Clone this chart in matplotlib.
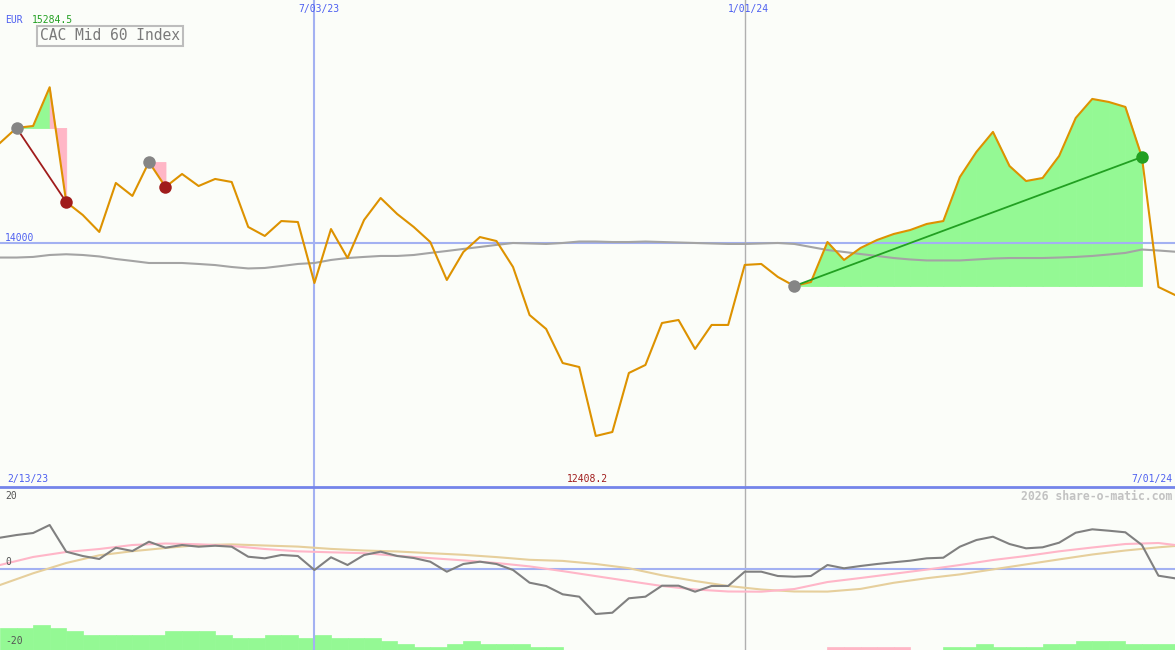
import matplotlib

matplotlib.use("Agg")
import matplotlib.pyplot as plt
import matplotlib.transforms as mtransforms
import numpy as np

# weekly closes, 2/13/23 .. 7/01/24 (index = week)
close = [14825, 14949, 14965, 15284.5, 14338, 14231, 14091, 14495, 14388, 14668,
         14462, 14569, 14470, 14528, 14503, 14132, 14058, 14181, 14173, 13670,
         14115, 13876, 14190, 14371, 14239, 14132, 14008, 13695, 13926, 14049,
         14016, 13802, 13406, 13291, 13010, 12977, 12408.2, 12441, 12928, 12994,
         13340, 13365, 13126, 13324, 13324, 13819, 13827, 13720, 13645, 13678,
         14008, 13860, 13959, 14025, 14074, 14107, 14157, 14181, 14544, 14751,
         14916, 14635, 14511, 14536, 14718, 15031, 15188, 15163, 15122, 14709,
         13637, 13571]

moving_avg = [13880, 13880, 13885, 13901, 13907, 13901, 13889, 13868, 13852, 13835,
              13835, 13835, 13827, 13818, 13802, 13790, 13794, 13810, 13827, 13835,
              13860, 13876, 13885, 13893, 13893, 13901, 13918, 13934, 13951, 13967,
              13984, 14000, 13996, 13992, 14000, 14012, 14012, 14008, 14008, 14012,
              14008, 14004, 14000, 13996, 13992, 13992, 13996, 14000, 13992, 13967,
              13942, 13926, 13909, 13893, 13876, 13864, 13856, 13856, 13856, 13864,
              13872, 13876, 13876, 13876, 13880, 13885, 13893, 13905, 13918, 13946,
              13938, 13928]

# oscillator panel
osc = [9.07, 9.86, 10.45, 12.81, 4.95, 3.68, 2.80, 6.12, 5.15, 7.89,
       6.12, 6.92, 6.42, 6.71, 6.42, 3.47, 3.00, 3.98, 3.68, -0.44,
       3.30, 1.03, 3.98, 4.95, 3.68, 3.09, 2.00, -0.94, 1.33, 2.00,
       1.33, -0.44, -4.18, -5.15, -7.60, -8.30, -13.40, -13.02, -8.77, -8.30,
       -5.06, -5.06, -6.83, -5.15, -5.15, -0.94, -0.94, -2.21, -2.42, -2.21,
       1.03, 0.06, 0.74, 1.33, 1.83, 2.30, 3.00, 3.18, 6.42, 8.39,
       9.36, 7.21, 5.94, 6.24, 7.60, 10.54, 11.54, 11.13, 10.66, 6.92,
       -2.12, -2.89]

slow_idx = list(range(0, 71, 2)) + [71]
osc_pink = [1.03, 3.39, 4.86, 5.74, 6.92, 7.36, 7.13, 6.63, 5.74, 5.06,
            4.77, 4.51, 3.74, 3.06, 2.39, 1.62, 0.62, -0.77, -2.24, -3.71,
            -5.15, -6.18, -6.77, -6.83, -6.04, -3.98, -2.80, -1.56, -0.32, 1.03,
            2.50, 3.68, 5.06, 6.18, 7.21, 7.51, 6.92]
osc_tan = [-4.86, -1.41, 1.62, 3.89, 5.09, 6.04, 6.89, 7.10, 6.77, 6.45,
           5.77, 5.30, 5.01, 4.51, 4.03, 3.36, 2.56, 2.24, 1.33, 0.09,
           -2.00, -3.68, -5.15, -6.18, -6.77, -6.80, -6.01, -4.21, -2.86, -1.74,
           -0.27, 1.21, 2.68, 4.12, 5.30, 6.24, 6.63]

hist = [6.57, 6.57, 7.36, 6.57, 5.59, 4.42, 4.42, 4.42, 4.42, 4.42,
        5.59, 5.59, 5.59, 4.42, 3.62, 3.62, 4.42, 4.42, 3.62, 4.42,
        3.62, 3.62, 3.62, 2.65, 1.77, 0.97, 0.97, 1.77, 2.65, 1.77,
        1.77, 1.77, 0.97, 0.97, 0, 0, 0, 0, 0, 0,
        0, 0, 0, 0, 0, 0, 0, 0, 0, 0,
        -0.97, -0.97, -0.97, -0.97, -0.97, 0, 0, 0.97, 0.97, 1.77,
        0.97, 0.97, 0.97, 1.77, 1.77, 2.65, 2.65, 2.65, 1.77, 1.77,
        1.77, 0]

# (entry week, exit week)
trades = [(1, 4), (9, 10), (48, 69)]
date_ticks = [(19, "7/03/23"), (45, "1/01/24")]
first_date, last_date = "2/13/23", "7/01/24"
ref_level = 14000

W, H = 1175, 650
BG = "#fbfdf9"
GOLD = "#dd9200"
TXT_BLUE = "#4d5ff0"
LINE_BLUE = "#a3b1f2"
GREEN_FILL = "#94f994"
PINK = "#ffb6c6"
MONO = "DejaVu Sans Mono"

fig = plt.figure(figsize=(W / 100, H / 100), dpi=100, facecolor=BG)
ax = fig.add_axes([0, 163 / H, 1, 487 / H])
axb = fig.add_axes([0, 0, 1, 163 / H])
for a in (ax, axb):
    a.set_facecolor(BG)
    a.set_axis_off()
    a.set_xlim(0, len(close) - 1)
ax.set_ylim(11987.5, 16004)
axb.set_ylim(-24, 24)

x = np.arange(len(close))
p = np.array(close)

# trade fills, per segment: green if segment ends above entry, pink if below
for i0, i1 in trades:
    entry = p[i0]
    for j in range(i0, i1):
        c = GREEN_FILL if p[j + 1] >= entry else PINK
        ax.fill_between(x[j:j + 2], p[j:j + 2], entry, facecolor=c, edgecolor=c,
                        lw=0.6, zorder=1)

ax.axhline(ref_level, color=LINE_BLUE, lw=1.5, zorder=2)
for a in (ax, axb):
    a.axvline(date_ticks[0][0], color=LINE_BLUE, lw=1.5, zorder=2)
    a.axvline(date_ticks[1][0], color="#b0b0b0", lw=1, zorder=2)

ax.plot(x, moving_avg, color="#a4a4a4", lw=1.5, zorder=3)
ax.plot(x, p, color=GOLD, lw=1.5, zorder=4)

for i0, i1 in trades:
    win = p[i1] >= p[i0]
    col = "#22a022" if win else "#a01c1c"
    if i1 - i0 > 1:
        ax.plot([i0, i1], [p[i0], p[i1]], color=col, lw=1.3, zorder=5)
    ax.plot(i0, p[i0], "o", color="#858585", ms=9, mec="none", zorder=6)
    ax.plot(i1, p[i1], "o", color=col, ms=9, mec="none", zorder=6)

# bottom panel
axb.axhline(0, color=LINE_BLUE, lw=1.5, zorder=2)
h = np.array(hist)
bar_cols = np.where(h >= 0, GREEN_FILL, PINK)
axb.bar(x, np.abs(h), bottom=-24, width=1, align="edge",
        color=bar_cols, edgecolor=bar_cols, lw=0.5, zorder=1)
axb.plot(slow_idx, osc_tan, color="#e6cf9c", lw=1.5, zorder=3)
axb.plot(slow_idx, osc_pink, color="#ffb6c8", lw=1.5, zorder=3)
axb.plot(x, osc, color="#808080", lw=1.5, zorder=4)

# panel separator
fig.add_artist(plt.Line2D([0, 1], [163 / H, 163 / H], color="#7484ea", lw=2))


# labels
def fy(py):
    return 1 - py / H


fs = 7
fig.text(5 / W, fy(20), "EUR", color=TXT_BLUE, family=MONO, fontsize=fs, va="center")
fig.text(32 / W, fy(20), f"{max(close):.1f}", color="#22a022", family=MONO, fontsize=fs, va="center")
fig.text(110 / W, fy(36), "CAC Mid 60 Index", color="#7a7a7a", family=MONO, fontsize=10.5,
         ha="center", va="center",
         bbox=dict(boxstyle="square,pad=0.2", fc=BG, ec="#bdbdbd", lw=1.5))

tr = mtransforms.blended_transform_factory(ax.transData, fig.transFigure)
for i, lab in date_ticks:
    ax.text(i + 0.25, fy(9), lab, transform=tr, color=TXT_BLUE, family=MONO,
            fontsize=fs, ha="center", va="center")
fig.text(7 / W, fy(479), first_date, color=TXT_BLUE, family=MONO, fontsize=fs, va="center")
fig.text(1172 / W, fy(479), last_date, color=TXT_BLUE, family=MONO, fontsize=fs,
         va="center", ha="right")
imin = int(np.argmin(p))
ax.text(imin - 0.5, fy(479), f"{min(close):.1f}", transform=tr, color="#a01c1c",
        family=MONO, fontsize=fs, ha="center", va="center")
fig.text(5 / W, fy(238), f"{ref_level}", color=TXT_BLUE, family=MONO, fontsize=fs, va="center")

for yy, lab in [(496, "20"), (562, "0"), (641, "-20")]:
    fig.text(5 / W, fy(yy), lab, color="#555555", family=MONO, fontsize=fs, va="center")
fig.text(1172 / W, fy(496), "2026 share-o-matic.com", color="#c2c2c2", family=MONO,
         fontsize=8.3, fontweight="bold", ha="right", va="center")

fig.savefig("out.png", dpi=100, facecolor=BG)
